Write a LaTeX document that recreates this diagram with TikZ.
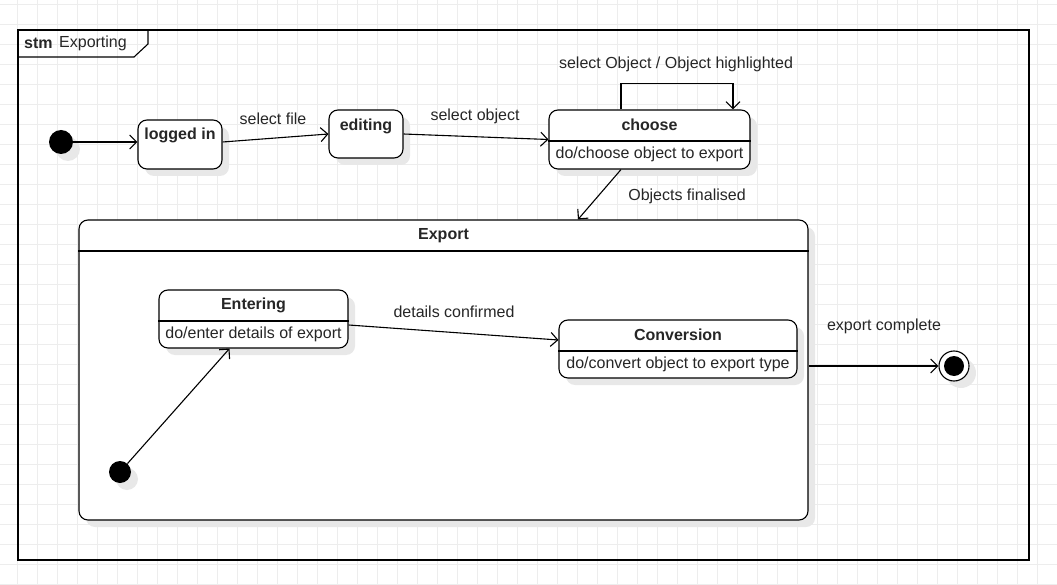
\documentclass[tikz,border=0pt]{standalone}
\usepackage{fontspec}
\setmainfont{Liberation Sans}
\usetikzlibrary{arrows.meta,shadows}

\begin{document}
\begin{tikzpicture}[x=1pt,y=-1pt,
  every node/.style={font=\fontsize{16}{19}\selectfont,text=black!85},
  gridline/.style={draw=black!7,line width=0.8pt},
  frameline/.style={line width=1.1pt},
  trans/.style={line width=1.1pt,-{Straight Barb[length=7pt,width=14pt]}},
  dropshade/.style={drop shadow={shadow xshift=7pt,shadow yshift=-7pt,fill=black!9,opacity=1}},
  state/.style={draw,line width=1.1pt,fill=white,rounded corners=9pt,dropshade,inner sep=0pt},
  dot/.style={circle,fill=black,inner sep=0pt,minimum size=#1,dropshade},
  title/.style={font=\bfseries\fontsize{16}{19}\selectfont}]
\useasboundingbox (0,0) rectangle (1057,585);
% background grid
\foreach \x in {17,37,...,1057} \draw[gridline] (\x,0) -- (\x,585);
\foreach \y in {4,24,...,584} \draw[gridline] (0,\y) -- (1057,\y);
% frame
\draw[frameline] (18,30) rectangle (1029,560);
\draw[frameline] (18,57) -- (134,57) -- (148,44) -- (148,30);
\node[title,anchor=west,inner sep=0pt] (stm) at (24,43) {stm};
\node[anchor=west,inner sep=0pt] (frameT) at (59,43) {Exporting};

% top row
\node[dot=24pt] (start) at (61,142) {};
\node[state,minimum width=84pt,minimum height=49pt] (login) at (180,144.5) {};
\node[title] (loginT) at (180,135) {logged in};
\node[state,minimum width=74pt,minimum height=48pt] (edit) at (366,134) {};
\node[title] (editT) at (366,126) {editing};
\node[state,minimum width=201pt,minimum height=59pt] (choose) at (649.5,139.5) {};
\draw[frameline] (choose.west |- 0,141) -- (choose.east |- 0,141);
\node[title] (chooseT) at (649.5,125) {choose};
\node (chooseB) at (649.5,154) {do/choose object to export};

% composite state
\node[state,minimum width=729pt,minimum height=300pt] (export) at (443.5,370) {};
\draw[frameline] (export.west |- 0,251) -- (export.east |- 0,251);
\node[title] (exportT) at (443.5,236) {Export};
\node[state,minimum width=189pt,minimum height=58pt] (enter) at (253.5,319) {};
\draw[frameline] (enter.west |- 0,321) -- (enter.east |- 0,321);
\node[title] (enterT) at (253.5,305) {Entering};
\node (enterB) at (253.5,334) {do/enter details of export};
\node[state,minimum width=238pt,minimum height=58pt] (convert) at (678,349) {};
\draw[frameline] (convert.west |- 0,351) -- (convert.east |- 0,351);
\node[title] (convertT) at (678,335) {Conversion};
\node (convertB) at (678,364) {do/convert object to export type};
\node[dot=22pt] (start2) at (120,472) {};

% final state
\node[circle,draw,line width=1.1pt,fill=white,minimum size=30pt,inner sep=0pt,dropshade] (final) at (954,366) {};
\fill (final.center) circle (10pt);

% transitions
\draw[trans] (start) -- (start -| login.west);
\draw[trans] ([yshift=2.5pt]login.east) -- (edit.west);
\node (selFile) at (273,119) {select file};
\draw[trans] (edit.east) -- (choose.west);
\node (selObj) at (475,116) {select object};
\draw[trans] ([xshift=-28.5pt]choose.north) -- ++(0,-26) -| ([xshift=83.5pt]choose.north);
\node (selHigh) at (676,64) {select Object / Object highlighted};
\draw[trans] ([xshift=-28.5pt]choose.south) -- ([xshift=134.5pt]export.north);
\node (finalised) at (687,196) {Objects finalised};
\draw[trans] (start2) -- ([xshift=-24pt]enter.south);
\draw[trans] ([yshift=-6pt]enter.east) -- ([yshift=9pt]convert.west);
\node (confirmed) at (454,312) {details confirmed};
\draw[trans] (export.east |- final.west) -- (final.west);
\node (complete) at (884,326) {export complete};
\end{tikzpicture}
\end{document}
